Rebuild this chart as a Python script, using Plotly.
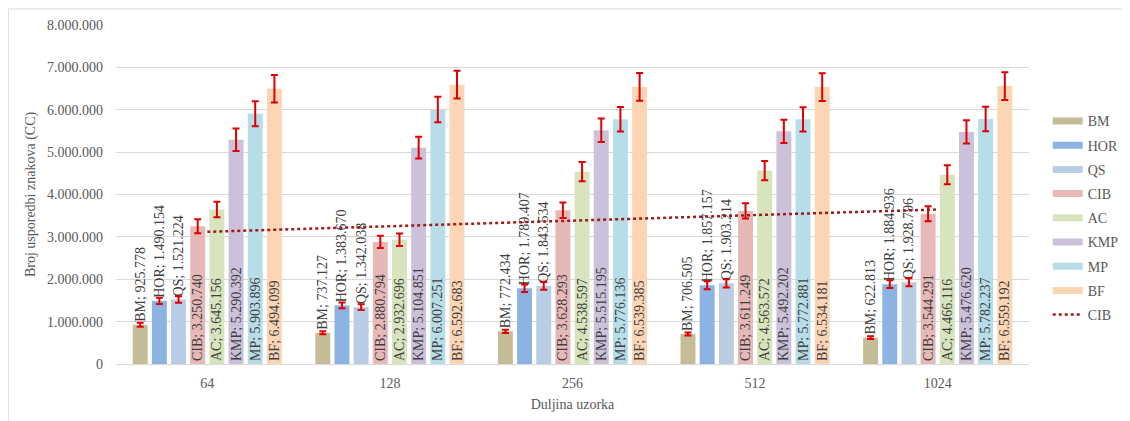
import numpy as np
import plotly.graph_objects as go

categories = ["64", "128", "256", "512", "1024"]
series_names = ["BM", "HOR", "QS", "CIB", "AC", "KMP", "MP", "BF"]
BM = [925778, 737127, 772434, 706505, 622813]
HOR = [1490154, 1383670, 1789407, 1857157, 1884936]
QS = [1521224, 1342038, 1843534, 1903214, 1928796]
CIB = [3250740, 2880794, 3628293, 3611249, 3544291]
AC = [3645156, 2932696, 4538597, 4563572, 4466116]
KMP = [5290392, 5104851, 5515195, 5492202, 5476620]
MP = [5903896, 6007251, 5776136, 5772881, 5782237]
BF = [6494099, 6592683, 6539385, 6534181, 6559192]
series_values = [BM, HOR, QS, CIB, AC, KMP, MP, BF]
colors = ["#c4bd97", "#8db3e2", "#b9cde5", "#e6b9b8", "#d7e4bd", "#ccc1da", "#b7dee8", "#fcd5b5"]
error_percent = 5
y_ticks = list(range(0, 8000001, 1000000))

FONT = "Liberation Serif, Times New Roman, serif"
TXT = "#404040"
GRAY = "#595959"


def fmt(v):
    return f"{v:,}".replace(",", ".")


fig = go.Figure()
for name, vals, col in zip(series_names, series_values, colors):
    labels = [f"{name}; {fmt(v)}" for v in vals]
    positions = ["inside" if v >= 2500000 else "outside" for v in vals]
    fig.add_trace(go.Bar(
        x=categories, y=vals, name=name, marker=dict(color=col, line=dict(width=0)),
        text=labels, textposition=positions, textangle=-90, insidetextanchor="start",
        constraintext="none", cliponaxis=False,
        textfont=dict(family=FONT, size=14, color=TXT),
        insidetextfont=dict(family=FONT, size=14, color=TXT),
        outsidetextfont=dict(family=FONT, size=14, color=TXT),
        error_y=dict(type="percent", value=error_percent, color="#e00000", thickness=2, width=3.5),
        showlegend=False, hoverinfo="skip",
    ))

# legend entries (wide swatches)
for i, (name, col) in enumerate(zip(series_names, colors)):
    fig.add_trace(go.Scatter(x=[None], y=[None], mode="lines", name=name,
                             line=dict(color=col, width=7), legendgroup=f"g{i}"))

# linear trendline of CIB
xi = np.arange(len(categories))
slope, intercept = np.polyfit(xi, CIB, 1)
trend = slope * xi + intercept
fig.add_trace(go.Scatter(x=categories, y=trend, mode="lines", name="CIB",
                         line=dict(color="#9c1c1c", width=2.5, dash="dot"),
                         legendgroup="trend", hoverinfo="skip"))

fig.update_layout(
    width=1122, height=413,
    margin=dict(l=108, r=101, t=17, b=57, autoexpand=False),
    paper_bgcolor="white", plot_bgcolor="white",
    separators=",.",
    barmode="group", bargap=0.16, bargroupgap=0.22,
    font=dict(family=FONT, size=14, color=GRAY),
    showlegend=True,
    legend=dict(x=1.0205, xanchor="left", y=0.431, yanchor="middle",
                font=dict(family=FONT, size=14, color=GRAY),
                tracegroupgap=3, bgcolor="rgba(0,0,0,0)"),
    xaxis=dict(type="category", categoryorder="array", categoryarray=categories,
               showline=True, linecolor="#d9d9d9", linewidth=1, ticks="",
               showgrid=False, tickfont=dict(family=FONT, size=14, color=GRAY),
               ticklabelstandoff=6, automargin=False,
               title=dict(text="Duljina uzorka", font=dict(family=FONT, size=14, color=GRAY), standoff=9)),
    yaxis=dict(range=[0, 8000000], tickvals=y_ticks, tickformat=",d",
               showgrid=True, gridcolor="#d9d9d9", gridwidth=1, zeroline=False,
               showline=False, ticks="", tickfont=dict(family=FONT, size=14, color=GRAY),
               ticklabelstandoff=12, automargin=False,
               title=dict(text="Broj usporedbi znakova (CC)", font=dict(family=FONT, size=14, color=GRAY), standoff=8)),
    shapes=[
        dict(type="line", xref="paper", yref="paper", x0=-0.118, x1=1.2, y0=1.0475, y1=1.0475,
             line=dict(color="#d9d9d9", width=1)),
        dict(type="line", xref="paper", yref="paper", x0=-0.118, x1=-0.118, y0=1.0475, y1=-0.3,
             line=dict(color="#d9d9d9", width=1)),
    ],
)

fig.write_html("out.html")
